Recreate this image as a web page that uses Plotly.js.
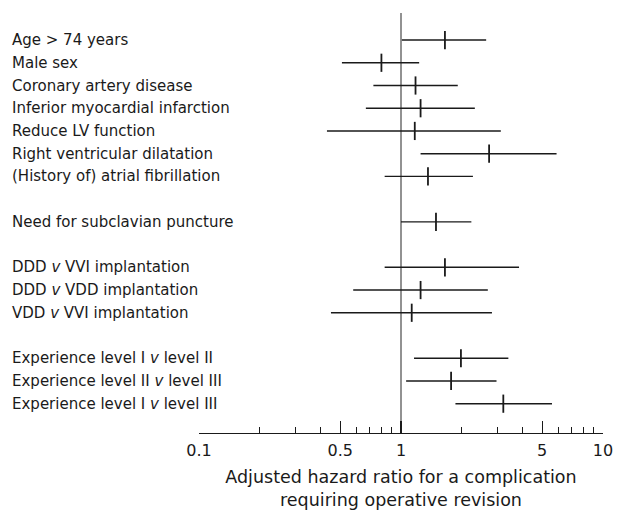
<!DOCTYPE html>
<html>
<head>
<meta charset="utf-8">
<script src="https://cdn.plot.ly/plotly-3.0.1.min.js"></script>
<style>html,body{margin:0;padding:0;background:#fff;}#chart{width:618px;height:510px;}</style>
</head>
<body>
<div id="chart"></div>
<script>
// Row labels, in display order, and how many rows each block has
const labels = [
  "Age > 74 years",
  "Male sex",
  "Coronary artery disease",
  "Inferior myocardial infarction",
  "Reduce LV function",
  "Right ventricular dilatation",
  "(History of) atrial fibrillation",
  "Need for subclavian puncture",
  "DDD <i>v</i> VVI implantation",
  "DDD <i>v</i> VDD implantation",
  "VDD <i>v</i> VVI implantation",
  "Experience level I <i>v</i> level II",
  "Experience level II <i>v</i> level III",
  "Experience level I <i>v</i> level III"
];
const groupSizes = [7, 1, 3, 3];

// Adjusted hazard ratios and 95% confidence limits
const hr   = [1.65, 0.80, 1.18, 1.25, 1.17, 2.73, 1.36, 1.49, 1.65, 1.25, 1.13, 1.98, 1.77, 3.21];
const ciLo = [1.01, 0.51, 0.73, 0.67, 0.43, 1.25, 0.83, 1.00, 0.83, 0.58, 0.45, 1.16, 1.06, 1.86];
const ciHi = [2.64, 1.23, 1.91, 2.32, 3.12, 5.89, 2.27, 2.23, 3.84, 2.69, 2.82, 3.40, 2.97, 5.59];

// Axis ticks
const majorTicks = [0.1, 0.5, 1, 5, 10];
const majorText  = ["0.1", "0.5", "1", "5", "10"];
const minorTicks = [0.2, 0.3, 0.4, 0.6, 0.7, 0.8, 0.9, 2, 3, 4, 6, 7, 8, 9];

// row index with an empty row between blocks
const rowPos = [];
let r = 0;
groupSizes.forEach((n, g) => {
  for (let i = 0; i < n; i++) rowPos.push(r++);
  r++;
});

const FONT = "DejaVu Sans, sans-serif";
const INK = "#1a1a1a";

const trace = {
  type: "scatter",
  mode: "markers",
  x: hr,
  y: rowPos,
  marker: {symbol: "line-ns", size: 13, line: {width: 1.8, color: INK}, color: INK},
  error_x: {
    type: "data",
    symmetric: false,
    array: hr.map((v, i) => ciHi[i] - v),
    arrayminus: hr.map((v, i) => v - ciLo[i]),
    width: 0,
    thickness: 1.4,
    color: INK
  },
  hoverinfo: "skip",
  showlegend: false
};

const annotations = labels.map((t, i) => ({
  text: t,
  xref: "paper", yref: "y",
  x: -0.468, y: rowPos[i],
  xanchor: "left", yanchor: "middle",
  showarrow: false,
  font: {family: FONT, size: 15, color: INK}
}));

const layout = {
  width: 618, height: 510,
  margin: {l: 199, r: 15, t: 13, b: 77},
  paper_bgcolor: "#fff", plot_bgcolor: "#fff",
  font: {family: FONT, color: INK},
  showlegend: false,
  xaxis: {
    type: "log",
    range: [-1, 1],
    showgrid: false,
    zeroline: false,
    showline: true,
    linecolor: INK,
    linewidth: 1.3,
    ticks: "inside",
    ticklen: 12,
    tickwidth: 1.2,
    tickcolor: INK,
    tickvals: majorTicks,
    ticktext: majorText,
    ticklabelstandoff: 2,
    tickfont: {family: FONT, size: 16, color: INK},
    minor: {tickvals: minorTicks, ticks: "inside", ticklen: 6, tickwidth: 1.1, tickcolor: INK, showgrid: false},
    title: {
      text: "Adjusted hazard ratio for a complication<br>requiring operative revision",
      font: {family: FONT, size: 17.5, color: INK},
      standoff: 15
    },
    fixedrange: true
  },
  yaxis: {
    visible: false,
    range: [17.29, -1.19],
    fixedrange: true
  },
  shapes: [{
    type: "line", xref: "x", yref: "paper",
    x0: 1, x1: 1, y0: 0, y1: 1,
    line: {color: "#6e6e6e", width: 1.5},
    layer: "below"
  }],
  annotations: annotations
};

Plotly.newPlot("chart", [trace], layout, {staticPlot: true, displayModeBar: false});
</script>
</body>
</html>
